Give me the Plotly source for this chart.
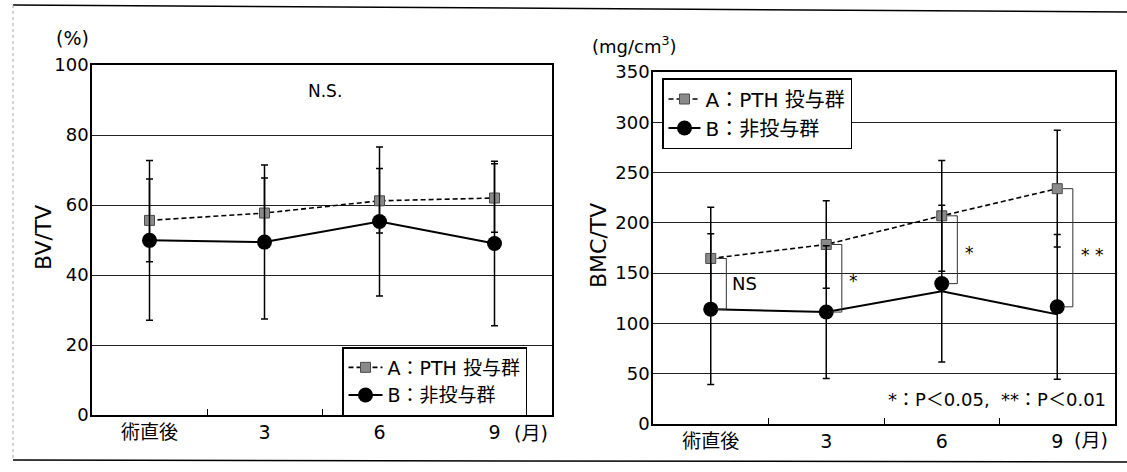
import plotly.graph_objects as go

W, H = 1127, 472
FONT = "DejaVu Sans, Noto Sans CJK JP, sans-serif"

# ---------------- data ----------------
categories = ["術直後", "3", "6", "9"]
series_names = ["A：PTH 投与群", "B：非投与群"]

bv_a = [55.6, 57.7, 61.2, 62.0]
bv_a_err = [11.8, 10.0, 9.2, 9.8]
bv_b = [49.9, 49.4, 55.3, 49.0]
bv_b_err = [22.8, 22.0, 21.3, 23.5]

bmc_a = [164.6, 178.5, 207.0, 234.0]
bmc_a_err = [51.0, 43.5, 55.0, 58.0]
bmc_b = [114.2, 111.3, 139.6, 116.5]
bmc_b_err = [75.0, 66.0, 78.0, 72.0]
bmc_b_line = [114.2, 111.3, 132.0, 109.0]

bv_ticks = [0, 20, 40, 60, 80, 100]
bmc_ticks = [0, 50, 100, 150, 200, 250, 300, 350]
sig_labels = ["NS", "*", "*", "* *"]


def px(x):
    return x / W


def py(y):
    return 1 - y / H


A_MARK = dict(symbol="square", size=10, color="#8a8a8a", line=dict(color="#4a4a4a", width=1))
B_MARK = dict(symbol="circle", size=15, color="black")
A_LINE = dict(color="black", width=1.6, dash="5px,3px")
B_LINE = dict(color="black", width=2)


def err(arr):
    return dict(type="data", array=arr, color="black", thickness=1.5, width=3.5)


fig = go.Figure()

# ---- left panel ----
fig.add_trace(go.Scatter(x=categories, y=bv_a, name=series_names[0], mode="lines+markers",
                         line=A_LINE, marker=A_MARK, error_y=err(bv_a_err),
                         xaxis="x", yaxis="y", legend="legend"))
fig.add_trace(go.Scatter(x=categories, y=bv_b, name=series_names[1], mode="lines+markers",
                         line=B_LINE, marker=B_MARK, error_y=err(bv_b_err),
                         xaxis="x", yaxis="y", legend="legend"))

# ---- right panel ----
fig.add_trace(go.Scatter(x=categories, y=bmc_b_line, mode="lines", line=B_LINE,
                         showlegend=False, xaxis="x2", yaxis="y2"))
fig.add_trace(go.Scatter(x=categories, y=bmc_a, name=series_names[0], mode="lines+markers",
                         line=A_LINE, marker=A_MARK, error_y=err(bmc_a_err),
                         xaxis="x2", yaxis="y2", legend="legend2"))
fig.add_trace(go.Scatter(x=categories, y=bmc_b, mode="markers", marker=B_MARK,
                         error_y=err(bmc_b_err), showlegend=False, xaxis="x2", yaxis="y2"))
fig.add_trace(go.Scatter(x=[None], y=[None], name=series_names[1], mode="lines+markers",
                         line=B_LINE, marker=B_MARK, xaxis="x2", yaxis="y2", legend="legend2"))

# ---- axes ----
def xax(domain, anchor):
    return dict(domain=domain, anchor=anchor, type="category", categoryorder="array",
                categoryarray=categories, range=[-0.5, 3.5], showline=True, mirror=True,
                linecolor="black", linewidth=1.5, ticks="inside", ticklen=6, tickwidth=1.2,
                tickcolor="black", tickson="boundaries", showgrid=False, zeroline=False,
                automargin=False, ticklabelstandoff=-1,
                tickfont=dict(size=19, family=FONT), fixedrange=True)


def yax(domain, anchor, rng, tv):
    return dict(domain=domain, anchor=anchor, range=rng, tickmode="array", tickvals=tv,
                showgrid=True, gridcolor="#222222", gridwidth=1, showline=True, mirror=True,
                linecolor="black", linewidth=1.5, zeroline=False, ticks="",
                automargin=False, ticklabelstandoff=-2,
                tickfont=dict(size=18, family=FONT), fixedrange=True)


L = dict(x0=92, x1=552, y0=65, y1=415)
R = dict(x0=653, x1=1115, y0=72, y1=424)

fig.update_layout(
    width=W, height=H, margin=dict(l=0, r=0, t=0, b=0, pad=0, autoexpand=False),
    paper_bgcolor="white", plot_bgcolor="white",
    font=dict(family=FONT, size=19, color="black"),
    xaxis=xax([px(L["x0"]), px(L["x1"])], "y"),
    yaxis=yax([py(L["y1"]), py(L["y0"])], "x", [0, 100], bv_ticks),
    xaxis2=xax([px(R["x0"]), px(R["x1"])], "y2"),
    yaxis2=yax([py(R["y1"]), py(R["y0"])], "x2", [0, 350], bmc_ticks),
    legend=dict(x=px(342), y=py(347), xanchor="left", yanchor="top", bgcolor="white",
                bordercolor="black", borderwidth=1.5, font=dict(size=19, family=FONT),
                tracegroupgap=0, itemwidth=34),
    legend2=dict(x=px(662), y=py(78), xanchor="left", yanchor="top", bgcolor="white",
                 bordercolor="black", borderwidth=1.5, font=dict(size=20, family=FONT),
                 tracegroupgap=0, itemwidth=32),
)

shapes = []
# outer frame
shapes.append(dict(type="line", xref="paper", yref="paper", x0=px(13), x1=1.0, y0=py(5), y1=py(12),
                   line=dict(color="black", width=1.5)))
shapes.append(dict(type="line", xref="paper", yref="paper", x0=px(13), x1=1.0, y0=py(460), y1=py(462),
                   line=dict(color="black", width=1.5)))
shapes.append(dict(type="line", xref="paper", yref="paper", x0=px(13), x1=px(13), y0=py(5), y1=py(460),
                   line=dict(color="#aaaaaa", width=1, dash="dot")))

# significance brackets (right panel)
for i in range(len(categories)):
    xa, xv = i + 0.05, i + 0.135
    shapes.append(dict(type="path", xref="x2", yref="y2",
                       path=f"M {xa},{bmc_a[i]} L {xv},{bmc_a[i]} L {xv},{bmc_b[i]} L {xa},{bmc_b[i]}",
                       line=dict(color="#333333", width=1)))
fig.update_layout(shapes=shapes)

C = dict(showarrow=False, xanchor="center", yanchor="middle")
ann = []
ann.append(dict(text="(%)", xref="paper", yref="paper", x=px(72), y=py(38), font=dict(size=19), **C))
ann.append(dict(text="(mg/cm<sup>3</sup>)", xref="paper", yref="paper", x=px(634), y=py(45),
                font=dict(size=18), **C))
ann.append(dict(text="BV/TV", xref="paper", yref="paper", x=px(43), y=py(238), textangle=-90,
                font=dict(size=22), **C))
ann.append(dict(text="BMC/TV", xref="paper", yref="paper", x=px(598), y=py(246), textangle=-90,
                font=dict(size=22), **C))
ann.append(dict(text="(月)", xref="paper", yref="paper", x=px(531), y=py(433), font=dict(size=19), **C))
ann.append(dict(text="(月)", xref="paper", yref="paper", x=px(1091), y=py(440), font=dict(size=19), **C))
ann.append(dict(text="N.S.", xref="x", yref="y", x=1.53, y=92.5, font=dict(size=17), **C))
ann.append(dict(text="*：P＜0.05,  **：P＜0.01", xref="paper", yref="paper", x=px(1108), y=py(399),
                xanchor="right", yanchor="middle", showarrow=False, font=dict(size=18)))
sig_pos = [(0.296, 140), (1.235, 146), (2.244, 174), (3.305, 172)]
for lab, (sx, sy) in zip(sig_labels, sig_pos):
    ann.append(dict(text=lab, xref="x2", yref="y2", x=sx, y=sy,
                    yshift=0 if lab == "NS" else -4, font=dict(size=18 if lab == "NS" else 17), **C))
fig.update_layout(annotations=ann)

fig.write_html("out.html", config={"displayModeBar": False},
               post_script="document.body.style.margin='0';document.body.style.padding='0';")
